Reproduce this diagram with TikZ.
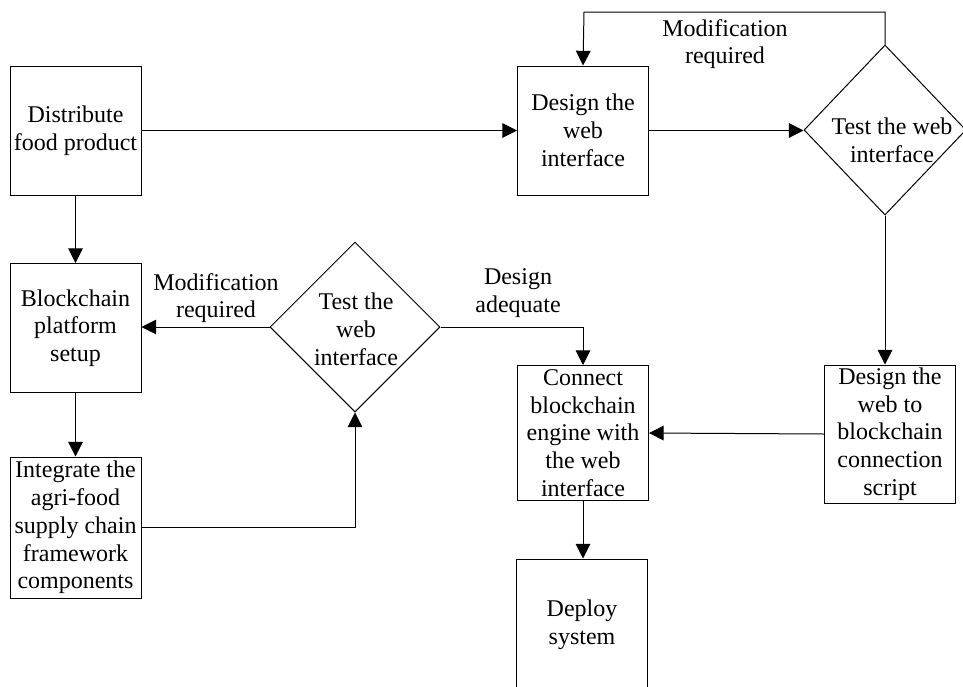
\documentclass[tikz,border=0pt]{standalone}
\usepackage{fontspec}
\setmainfont{Liberation Serif}
\usetikzlibrary{arrows.meta,shapes.geometric}
\begin{document}
\begin{tikzpicture}[x=0.75pt,y=-0.75pt,
  every node/.style={font=\fontsize{18}{20.8}\selectfont},
  box/.style={draw,line width=0.75pt,rectangle,align=center,inner sep=0pt,minimum width=98.25pt},
  dia/.style={draw,line width=0.75pt,diamond,inner sep=0pt},
  txt/.style={align=center,inner sep=0pt},
  arr/.style={line width=0.75pt,-{Triangle[length=11pt,width=11pt]}},
  ln/.style={line width=0.75pt}]
\useasboundingbox (0,0) rectangle (963,686);
\clip (0,0) rectangle (963,686);
% boxes
\node[box,minimum height=96.75pt] (dist) at (75.5,130.5) {Distribute\\food product};
\node[box,minimum height=96.75pt] (dwi) at (583,130.5) {Design the\\web\\interface};
\node[box,minimum height=96.75pt] (bps) at (75.5,328) {Blockchain\\platform\\setup};
\node[box,minimum height=105.75pt] (integ) at (75.5,527.5) {Integrate the\\agri-food\\supply chain\\framework\\components};
\node[box,minimum height=101.25pt] (conn) at (583,433) {Connect\\blockchain\\engine with\\the web\\interface};
\node[box,minimum height=103.5pt] (dws) at (890,434) {Design the\\web to\\blockchain\\connection\\script};
\node[box,minimum height=99pt] (dep) at (582,625) {Deploy\\system};
% diamonds
\node[dia,minimum width=121.5pt,minimum height=127.5pt] (t1) at (885,130) {};
\node[txt] (t1txt) at (892,140) {Test the web\\interface};
\node[dia,minimum width=127.5pt,minimum height=127.5pt] (t2) at (355,327) {};
\node[txt] (t2txt) at (356,329.5) {Test the\\web\\interface};
% labels
\node[txt] (lab1) at (725,44) {Modification\\required};
\node[txt] (lab2) at (216,298) {Modification\\required};
\node[txt] (lab3) at (518,293) {Design\\adequate};
% connectors
\coordinate (fb) at (584,12);
\draw[arr] (dist) -- (dwi);
\draw[arr] (dwi.east) -- (dwi.east -| t1.west);
\draw[arr] (t1.north) |- (fb) -- (dwi.north);
\draw[arr] (t1.south) -- (t1.south |- dws.north);
\draw[arr] (dws.west) -- (conn.east);
\draw[arr] (conn.south) -- (conn.south |- dep.north);
\draw[arr] (dist.south) -- (bps.north);
\draw[arr] (bps.south) -- (integ.north);
\draw[arr] (integ.east) -| (t2.south);
\draw[arr] (t2.west) -- (t2.west -| bps.east);
\draw[arr] (t2.east) -| (conn.north);
\end{tikzpicture}
\end{document}
